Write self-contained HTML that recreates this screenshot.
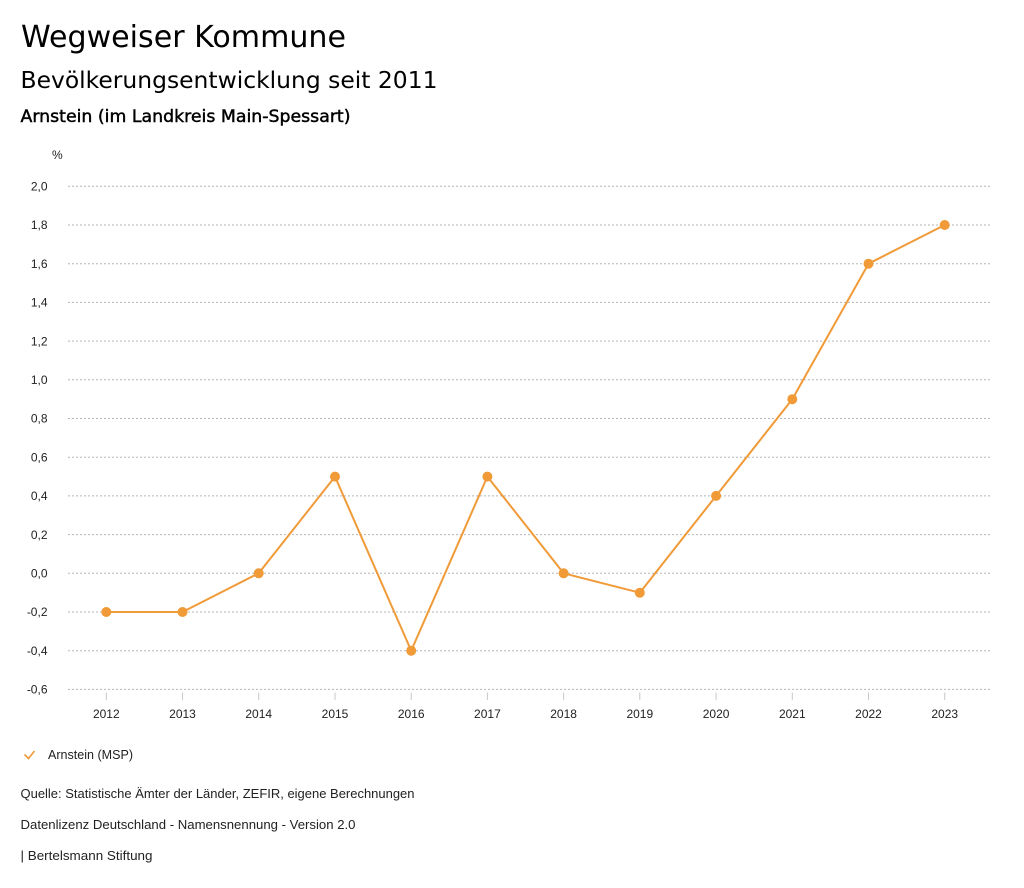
<!DOCTYPE html>
<html><head><meta charset="utf-8"><style>
html,body{margin:0;padding:0;background:#fff;}
svg{display:block;}
</style></head><body>
<svg width="1024" height="888" viewBox="0 0 1024 888" xmlns="http://www.w3.org/2000/svg">
<rect width="1024" height="888" fill="#fff"/>
<g font-family="'DejaVu Sans', sans-serif" fill="#000">
<text x="21" y="47" font-size="30" textLength="325" lengthAdjust="spacingAndGlyphs">Wegweiser Kommune</text>
<text x="20.5" y="88" font-size="23.5" textLength="417" lengthAdjust="spacingAndGlyphs">Bevölkerungsentwicklung seit 2011</text>
<text x="20.5" y="122" font-size="17" stroke="#000" stroke-width="0.45" textLength="330" lengthAdjust="spacingAndGlyphs">Arnstein (im Landkreis Main-Spessart)</text>
</g>
<g font-family="'Liberation Sans', sans-serif" font-size="12" fill="#222">
<text x="52" y="159">%</text>
</g>
<g stroke="#b5b5b5" stroke-width="1" stroke-dasharray="2,2">
<line x1="68" y1="186.3" x2="990" y2="186.3"/>
<line x1="68" y1="225" x2="990" y2="225"/>
<line x1="68" y1="263.7" x2="990" y2="263.7"/>
<line x1="68" y1="302.4" x2="990" y2="302.4"/>
<line x1="68" y1="341.1" x2="990" y2="341.1"/>
<line x1="68" y1="379.8" x2="990" y2="379.8"/>
<line x1="68" y1="418.5" x2="990" y2="418.5"/>
<line x1="68" y1="457.2" x2="990" y2="457.2"/>
<line x1="68" y1="495.9" x2="990" y2="495.9"/>
<line x1="68" y1="534.6" x2="990" y2="534.6"/>
<line x1="68" y1="573.3" x2="990" y2="573.3"/>
<line x1="68" y1="612" x2="990" y2="612"/>
<line x1="68" y1="650.7" x2="990" y2="650.7"/>
<line x1="68" y1="689.4" x2="990" y2="689.4"/>
</g>
<g font-family="'Liberation Sans', sans-serif" font-size="12" fill="#222" text-anchor="end">
<text x="47.5" y="190.5">2,0</text>
<text x="47.5" y="229.2">1,8</text>
<text x="47.5" y="267.9">1,6</text>
<text x="47.5" y="306.6">1,4</text>
<text x="47.5" y="345.3">1,2</text>
<text x="47.5" y="384">1,0</text>
<text x="47.5" y="422.7">0,8</text>
<text x="47.5" y="461.4">0,6</text>
<text x="47.5" y="500.1">0,4</text>
<text x="47.5" y="538.8">0,2</text>
<text x="47.5" y="577.5">0,0</text>
<text x="47.5" y="616.2">-0,2</text>
<text x="47.5" y="654.9">-0,4</text>
<text x="47.5" y="693.6">-0,6</text>
</g>
<g stroke="#c8c8c8" stroke-width="1">
<line x1="106.3" y1="692.5" x2="106.3" y2="700"/>
<line x1="182.5" y1="692.5" x2="182.5" y2="700"/>
<line x1="258.7" y1="692.5" x2="258.7" y2="700"/>
<line x1="335" y1="692.5" x2="335" y2="700"/>
<line x1="411.2" y1="692.5" x2="411.2" y2="700"/>
<line x1="487.4" y1="692.5" x2="487.4" y2="700"/>
<line x1="563.6" y1="692.5" x2="563.6" y2="700"/>
<line x1="639.8" y1="692.5" x2="639.8" y2="700"/>
<line x1="716.1" y1="692.5" x2="716.1" y2="700"/>
<line x1="792.3" y1="692.5" x2="792.3" y2="700"/>
<line x1="868.5" y1="692.5" x2="868.5" y2="700"/>
<line x1="944.7" y1="692.5" x2="944.7" y2="700"/>
</g>
<g font-family="'Liberation Sans', sans-serif" font-size="12" fill="#222" text-anchor="middle">
<text x="106.3" y="718">2012</text>
<text x="182.5" y="718">2013</text>
<text x="258.7" y="718">2014</text>
<text x="335" y="718">2015</text>
<text x="411.2" y="718">2016</text>
<text x="487.4" y="718">2017</text>
<text x="563.6" y="718">2018</text>
<text x="639.8" y="718">2019</text>
<text x="716.1" y="718">2020</text>
<text x="792.3" y="718">2021</text>
<text x="868.5" y="718">2022</text>
<text x="944.7" y="718">2023</text>
</g>
<polyline fill="none" stroke="#f09a38" stroke-width="2" stroke-linejoin="round"
 points="106.3,612 182.5,612 258.7,573.3 335,476.6 411.2,650.7 487.4,476.6 563.6,573.3 639.8,592.7 716.1,495.9 792.3,399.2 868.5,263.7 944.7,225"/>
<g fill="#f09a38">
<circle cx="106.3" cy="612" r="5"/>
<circle cx="182.5" cy="612" r="5"/>
<circle cx="258.7" cy="573.3" r="5"/>
<circle cx="335" cy="476.6" r="5"/>
<circle cx="411.2" cy="650.7" r="5"/>
<circle cx="487.4" cy="476.6" r="5"/>
<circle cx="563.6" cy="573.3" r="5"/>
<circle cx="639.8" cy="592.7" r="5"/>
<circle cx="716.1" cy="495.9" r="5"/>
<circle cx="792.3" cy="399.2" r="5"/>
<circle cx="868.5" cy="263.7" r="5"/>
<circle cx="944.7" cy="225" r="5"/>
</g>
<polyline fill="none" stroke="#f09a38" stroke-width="1.6" points="24.5,754.5 28.5,758.5 34.5,751"/>
<g font-family="'Liberation Sans', sans-serif" font-size="12.5" fill="#222">
<text x="48" y="759" textLength="85" lengthAdjust="spacingAndGlyphs">Arnstein (MSP)</text>
<text x="20.5" y="798" textLength="394" lengthAdjust="spacingAndGlyphs">Quelle: Statistische Ämter der Länder, ZEFIR, eigene Berechnungen</text>
<text x="20.5" y="829" textLength="335" lengthAdjust="spacingAndGlyphs">Datenlizenz Deutschland - Namensnennung - Version 2.0</text>
<text x="20.5" y="860" textLength="132" lengthAdjust="spacingAndGlyphs">| Bertelsmann Stiftung</text>
</g>
</svg>
</body></html>
